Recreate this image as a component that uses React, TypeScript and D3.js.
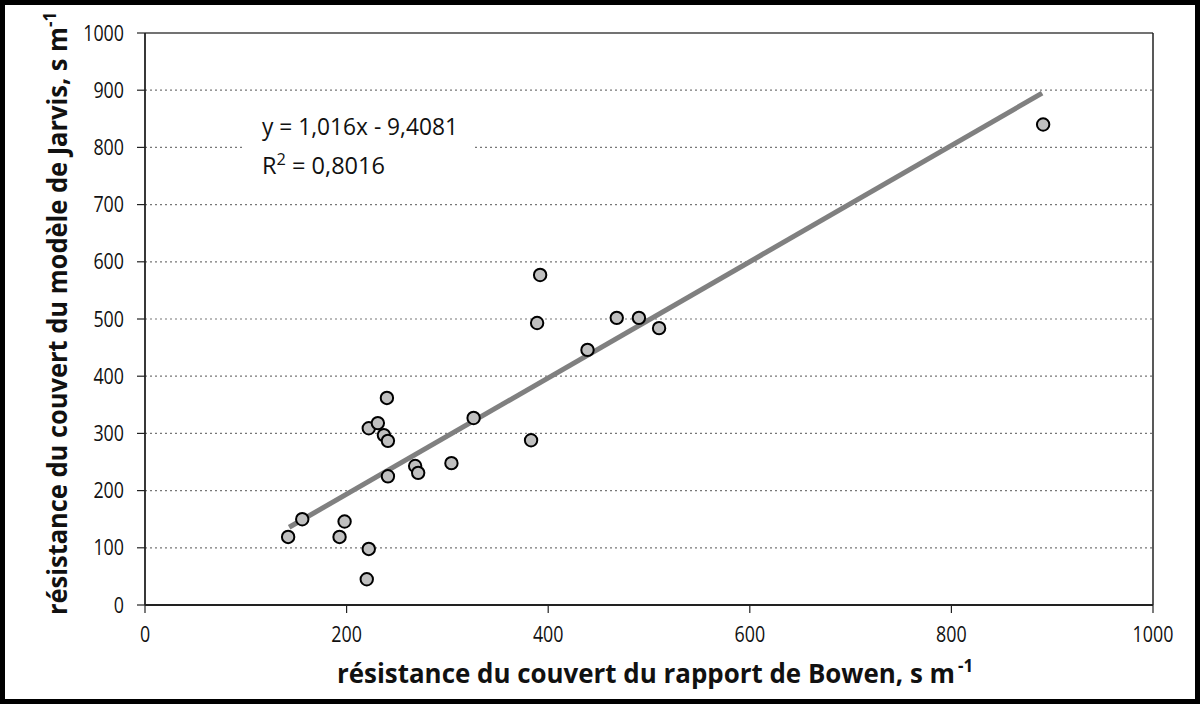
import React from "react";
import * as d3 from "d3";

const xValues = [142, 156, 193, 198, 222, 220, 222, 231, 237, 241, 240, 241, 268, 271, 304, 326, 383, 389, 392, 439, 468, 490, 510, 891];
const yValues = [119, 150, 119, 146, 98, 45, 309, 318, 297, 287, 362, 225, 243, 231, 248, 327, 288, 493, 577, 446, 502, 502, 484, 840];
const xTicks = [0, 200, 400, 600, 800, 1000];
const yTicks = [0, 100, 200, 300, 400, 500, 600, 700, 800, 900, 1000];
const slope = 1.016;
const intercept = -9.4081;
const trendRange = [143, 890];
const eqText = "y = 1,016x - 9,4081";
const r2Text = " = 0,8016";

const W = 1200, H = 704;
const L = 145, R = 1153, T = 33, B = 605;

export default function App() {
  const x = d3.scaleLinear().domain([0, 1000]).range([L, R]);
  const y = d3.scaleLinear().domain([0, 1000]).range([B, T]);
  const pts = xValues.map((v, i) => ({ x: v, y: yValues[i] }));
  const line = d3.line<number>().x((d) => x(d)).y((d) => y(slope * d + intercept));
  const font = "'Open Sans', sans-serif";
  const tl = (t: number) => String(t).length * 10.2;
  return (
    <svg width={W} height={H} style={{ position: "absolute", left: 0, top: 0, background: "#fff" }}>
      <rect x={0} y={0} width={W} height={H} fill="#fff" />
      <rect x={2.5} y={2.5} width={W - 5} height={H - 5} fill="none" stroke="#000" strokeWidth={5} />
      {yTicks.filter((t) => t > 0 && t < 1000).map((t) => (
        <line key={t} x1={L} x2={R} y1={y(t)} y2={y(t)} stroke="#777" strokeWidth={1.2} strokeDasharray="2,3" />
      ))}
      <rect x={243} y={103} width={229} height={80} fill="#fff" />
      <line x1={L} x2={R} y1={T} y2={T} stroke="#444" strokeWidth={1.5} />
      <line x1={R} x2={R} y1={T} y2={B} stroke="#222" strokeWidth={1.5} />
      <line x1={L} x2={L} y1={T} y2={B} stroke="#222" strokeWidth={1.8} />
      <line x1={L} x2={R} y1={B} y2={B} stroke="#222" strokeWidth={1.8} />
      {yTicks.map((t) => (
        <g key={t}>
          <line x1={L - 8} x2={L} y1={y(t)} y2={y(t)} stroke="#222" strokeWidth={1.2} />
          <text x={124} y={y(t)} dy="0.36em" textAnchor="end" fontFamily={font} fontSize={21} fill="#111" textLength={tl(t)} lengthAdjust="spacingAndGlyphs">{t}</text>
        </g>
      ))}
      {xTicks.map((t) => (
        <g key={t}>
          <line x1={x(t)} x2={x(t)} y1={B} y2={B + 8} stroke="#222" strokeWidth={1.2} />
          <text x={x(t)} y={642} textAnchor="middle" fontFamily={font} fontSize={21} fill="#111" textLength={tl(t)} lengthAdjust="spacingAndGlyphs">{t}</text>
        </g>
      ))}
      <path d={line(trendRange) || ""} stroke="#808080" strokeWidth={5} fill="none" />
      {pts.map((p, i) => (
        <circle key={i} cx={x(p.x)} cy={y(p.y)} r={6.2} fill="#c0c0c0" stroke="#000" strokeWidth={2} />
      ))}
      <text x={262} y={135} fontFamily={font} fontSize={23} fill="#111" textLength={196} lengthAdjust="spacingAndGlyphs">{eqText}</text>
      <text x={262} y={174} fontFamily={font} fontSize={23} fill="#111" textLength={123} lengthAdjust="spacingAndGlyphs">
        R<tspan fontSize={16} dy={-9}>2</tspan><tspan dy={9}>{r2Text}</tspan>
      </text>
      <text x={646} y={683} textAnchor="middle" fontFamily={font} fontWeight="bold" fontSize={26} fill="#111" textLength={618} lengthAdjust="spacingAndGlyphs">
        résistance du couvert du rapport de Bowen, s m
      </text>
      <text x={958} y={672} fontFamily={font} fontWeight="bold" fontSize={17} fill="#111">-1</text>
      <g transform="translate(67,0) rotate(-90)">
        <text x={-321} y={0} textAnchor="middle" fontFamily={font} fontWeight="bold" fontSize={26} fill="#111" textLength={588} lengthAdjust="spacingAndGlyphs">
          résistance du couvert du modèle de Jarvis, s m
        </text>
        <text x={-27} y={-11} fontFamily={font} fontWeight="bold" fontSize={17} fill="#111">-1</text>
      </g>
    </svg>
  );
}
